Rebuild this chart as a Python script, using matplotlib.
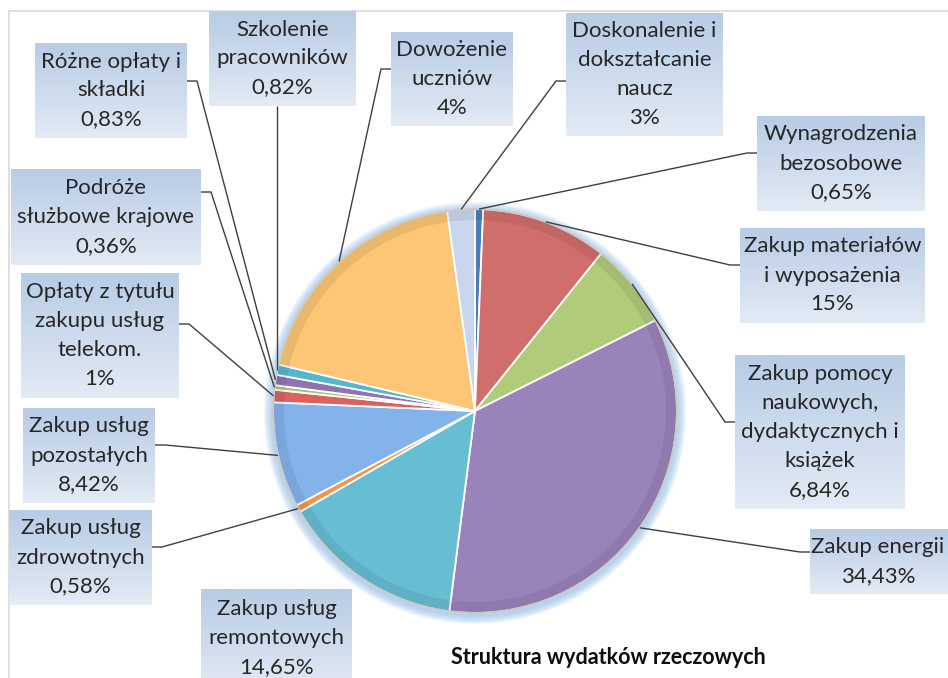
import numpy as np
import matplotlib.pyplot as plt
from matplotlib.patches import Wedge, Circle

W, H = 948, 678

# slices in Excel order, clockwise from 12 o'clock
names = ['Wynagrodzenia\nbezosobowe',
         'Zakup materiałów\ni wyposażenia',
         'Zakup pomocy\nnaukowych,\ndydaktycznych i\nksiążek',
         'Zakup energii',
         'Zakup usług\nremontowych',
         'Zakup usług\nzdrowotnych',
         'Zakup usług\npozostałych',
         'Opłaty z tytułu\nzakupu usług\ntelekom.',
         'Podróże\nsłużbowe krajowe',
         'Różne opłaty i\nskładki',
         'Szkolenie\npracowników',
         'Dowożenie\nuczniów',
         'Doskonalenie i\ndokształcanie\nnaucz']
pct_labels = ['0,65%', '15%', '6,84%', '34,43%', '14,65%', '0,58%', '8,42%',
              '1%', '0,36%', '0,83%', '0,82%', '4%', '3%']
# slice sizes as they are drawn
values = [0.65, 10.1, 6.84, 34.43, 14.65, 0.58, 8.42, 1.0, 0.36, 0.83, 0.82, 19.1, 2.2]

colors = ['#4a7ebb', '#d06e6b', '#b0cb7a', '#9a83bb', '#67bed3', '#f29548',
          '#84b3ec', '#da625f', '#a8c66c', '#8e74b3', '#55b6cd', '#fcc676', '#c9d7ee']

# label boxes: x0, y0, x1, y1 (pixels, from top-left)
boxes = [(757, 116, 925, 211), (740, 228, 925, 323), (735, 355, 905, 509),
         (810, 529, 958, 594), (201, 589, 352, 690), (9, 510, 152, 605),
         (23, 408, 155, 503), (21, 273, 179, 398), (11, 169, 201, 265),
         (35, 43, 187, 138), (209, 11, 356, 106), (391, 32, 513, 126),
         (566, 13, 723, 136)]
# where the leader meets the box: side and y
leaders = [('left', 153), ('left', 265), ('left', 422), ('left', 552), None,
           ('right', 547), ('right', 445), ('right', 324), ('right', 192),
           ('right', 81), ('bottom', 106), ('left', 69), ('left', 81)]

cx, cy, R = 475, 411, 202

fig = plt.figure(figsize=(W / 100, H / 100), dpi=100)
ax = fig.add_axes([0, 0, 1, 1])
ax.axis('off')

# glow round the pie
for k in range(9, 0, -1):
    ax.add_patch(Circle((cx, cy + 2), R + k, color='#9cc2ea', alpha=0.13, lw=0, zorder=1))

# y axis is flipped, so counterclock here turns clockwise on screen
wedges, _ = ax.pie(values, colors=colors, startangle=-90, counterclock=True,
                   center=(cx, cy), radius=R,
                   wedgeprops=dict(edgecolor='white', linewidth=1.3, zorder=2))

# bevel-ish darker rim and light outline
for w in wedges:
    ax.add_patch(Wedge((cx, cy), R, w.theta1, w.theta2, width=11,
                       facecolor='black', alpha=0.07, lw=0, zorder=2.1))
ax.add_patch(Circle((cx, cy), R, fill=False, edgecolor='#c9c9c9', lw=1.5, zorder=2.2))

top_c = np.array([0.72, 0.80, 0.90])
bot_c = np.array([0.89, 0.92, 0.96])
grad = np.linspace(top_c, bot_c, 64).reshape(64, 1, 3)

for i, w in enumerate(wedges):
    x0, y0, x1, y1 = boxes[i]
    ax.imshow(grad, extent=(x0, x1, y1, y0), origin='upper', aspect='auto',
              interpolation='bilinear', zorder=3)
    lines = names[i].split('\n') + [pct_labels[i]]
    bx = (x0 + x1) / 2
    by = (y0 + y1) / 2
    if i == 3:
        bx = 878
    if i == 4:
        by = 638
    n = len(lines)
    for j, t in enumerate(lines):
        ax.text(bx, by + (j - (n - 1) / 2) * 29, t, ha='center', va='center',
                fontsize=16, family='Lato', color='#262626', zorder=4)

    ld = leaders[i]
    if ld is None:
        continue
    th = np.deg2rad((w.theta1 + w.theta2) / 2)
    px, py = cx + R * np.cos(th), cy + R * np.sin(th)
    side, ly = ld
    if side == 'left':
        xs, ys = [px, x0 - 10, x0], [py, ly, ly]
    elif side == 'right':
        xs, ys = [px, x1 + 10, x1], [py, ly, ly]
    else:
        xs, ys = [px, px], [py, ly]
    ax.plot(xs, ys, color='#3f3f3f', lw=1, zorder=2.5, solid_capstyle='butt')

# chart area border
ax.plot([9, W], [11, 11], color='#d9d9d9', lw=1.2, zorder=0.5)
ax.plot([9, 9], [11, H], color='#d9d9d9', lw=1.2, zorder=0.5)

ax.text(608, 657, 'Struktura wydatków rzeczowych', ha='center', va='center',
        fontsize=15.5, family='Lato', weight='bold', color='#0d0d0d', zorder=4)

ax.set_xlim(0, W)
ax.set_ylim(H, 0)
ax.set_aspect('auto')

fig.savefig('out.png', dpi=100)
